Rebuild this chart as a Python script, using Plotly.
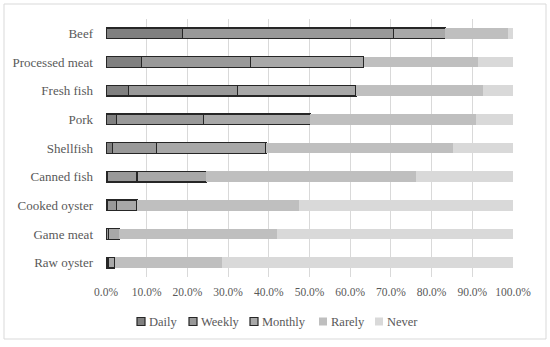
import plotly.graph_objects as go

categories = ["Beef", "Processed meat", "Fresh fish", "Pork", "Shellfish",
              "Canned fish", "Cooked oyster", "Game meat", "Raw oyster"]
daily   = [18.7, 8.7, 5.5, 2.5, 1.5, 0.3, 0.3, 0.2, 0.2]
weekly  = [51.9, 26.8, 26.8, 21.4, 11.0, 7.3, 2.2, 0.4, 0.3]
monthly = [12.8, 27.8, 29.1, 26.3, 26.8, 17.0, 5.1, 2.7, 1.6]
rarely  = [15.3, 28.1, 31.3, 40.8, 45.9, 51.6, 39.7, 38.7, 26.3]
never   = [1.3, 8.6, 7.3, 9.0, 14.8, 23.8, 52.7, 58.0, 71.6]

series = [("Daily", daily), ("Weekly", weekly), ("Monthly", monthly),
          ("Rarely", rarely), ("Never", never)]
colors = ["#808080", "#999999", "#a8a8a8", "#bfbfbf", "#d9d9d9"]
outlined = [True, True, True, False, False]
EDGE = "#262626"

FONT = "'Liberation Serif', 'DejaVu Serif', serif"
TXT = "#595959"

fig = go.Figure()
for (name, vals), col, ol in zip(series, colors, outlined):
    fig.add_trace(go.Bar(
        name=name, y=categories, x=[v / 100 for v in vals], orientation="h",
        showlegend=False,
        marker=dict(color=col,
                    line=dict(color=EDGE if ol else col, width=1.2 if ol else 0)),
    ))

W, H = 550, 347
L, R, T, B = 106, 37, 19, 70
pw, ph = W - L - R, H - T - B
def px(x): return (x - L) / pw
def py(y): return (H - B - y) / ph

shapes = [dict(type="rect", xref="paper", yref="paper",
               x0=px(4), x1=px(546), y0=py(339), y1=py(4),
               line=dict(color="#d9d9d9", width=1), layer="below")]
annotations = []

# legend (custom, compact like the original)
leg_marker_x = [137, 189, 250, 319, 375]
leg_y = 321.5
for (name, _), col, ol, mx in zip(series, colors, outlined, leg_marker_x):
    shapes.append(dict(type="rect", xref="paper", yref="paper",
                       x0=px(mx), x1=px(mx + 8), y0=py(leg_y + 4), y1=py(leg_y - 4),
                       fillcolor=col,
                       line=dict(color=EDGE if ol else col, width=1.2 if ol else 0)))
    annotations.append(dict(xref="paper", yref="paper", x=px(mx + 10), y=py(leg_y),
                            xanchor="left", yanchor="middle", text=name,
                            showarrow=False, font=dict(size=12.5, color=TXT)))

fig.update_layout(
    width=W, height=H, barmode="stack", bargap=0.63,
    margin=dict(l=L, r=R, t=T, b=B),
    plot_bgcolor="white", paper_bgcolor="white",
    font=dict(family=FONT, color=TXT, size=13),
    showlegend=False,
    xaxis=dict(range=[0, 1], tickvals=[i / 10 for i in range(11)],
               tickformat=".1%", showgrid=True, gridcolor="#d9d9d9", gridwidth=1,
               zeroline=False, showline=False, tickfont=dict(size=11.5),
               ticks="", ticklabelstandoff=6, fixedrange=True),
    yaxis=dict(autorange="reversed", showgrid=False, zeroline=False, showline=False,
               ticks="", ticklabelstandoff=12, tickfont=dict(size=13)),
    shapes=shapes,
    annotations=annotations,
)

fig.write_html("out.html", config={"displayModeBar": False},
               post_script="document.body.style.margin='0';")
